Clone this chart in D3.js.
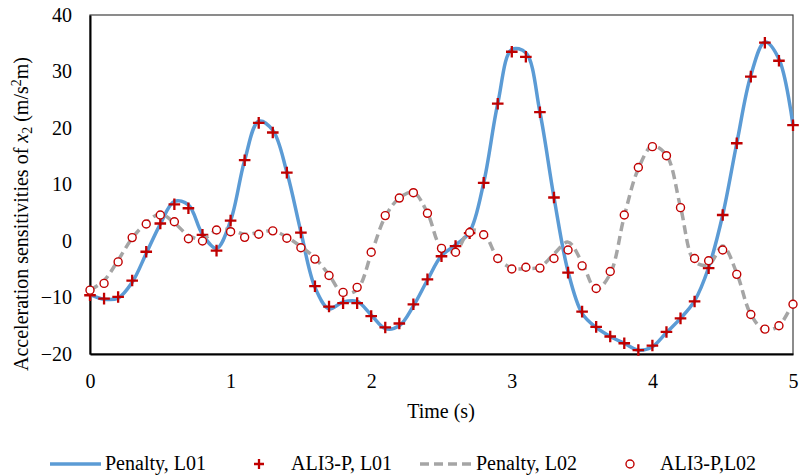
<!DOCTYPE html>
<html><head><meta charset="utf-8">
<script src="https://cdn.jsdelivr.net/npm/d3@7"></script>
<style>body{margin:0;background:#fff}</style>
</head><body><svg id="c" width="800" height="476"></svg>
<script>
const time = [0,0.1,0.2,0.3,0.4,0.5,0.6,0.7,0.8,0.9,1,1.1,1.2,1.3,1.4,1.5,1.6,1.7,1.8,1.9,2,2.1,2.2,2.3,2.4,2.5,2.6,2.7,2.8,2.9,3,3.1,3.2,3.3,3.4,3.5,3.6,3.7,3.8,3.9,4,4.1,4.2,4.3,4.4,4.5,4.6,4.7,4.8,4.9,5];
const penaltyL01 = [-9.5,-10.3,-10.1,-7.3,-2.2,3.0,7.0,6.4,1.2,-1.3,3.6,14.3,21.2,19.6,12.2,1.6,-8.2,-12.0,-10.8,-10.7,-13.1,-15.5,-15.0,-11.5,-6.9,-2.6,-0.7,1.6,10.3,24.3,33.9,33.3,22.8,7.7,-5.4,-12.8,-15.3,-16.9,-18.1,-19.3,-18.7,-16.2,-13.7,-10.6,-4.7,4.6,17.3,29.3,35.2,32.2,20.5];
const ali3pL01 = [-9.6,-10.2,-9.9,-7.0,-1.9,3.1,6.5,5.8,1.1,-1.7,3.6,14.3,20.9,19.2,12.1,1.5,-8.0,-11.6,-11.0,-11.0,-13.3,-15.3,-14.6,-11.2,-6.8,-2.7,-0.9,1.4,10.3,24.3,33.5,32.6,22.8,7.7,-5.6,-12.5,-15.2,-16.9,-18.1,-19.3,-18.5,-16.1,-13.7,-10.7,-4.8,4.6,17.3,29.1,35.1,31.9,20.5];
const penaltyL02 = [-8.7,-7.0,-3.4,0.5,3.2,4.8,3.2,1.0,0.3,1.9,2.0,1.2,1.5,1.8,0.7,-1.0,-3.0,-6.0,-9.3,-8.6,-2.3,4.3,7.6,8.6,5.0,-1.2,-1.8,1.8,1.3,-3.0,-4.8,-4.9,-4.6,-2.3,-0.2,-3.8,-8.6,-5.8,4.4,12.8,16.8,15.2,6.0,-3.6,-4.2,-0.9,-5.7,-13.0,-15.8,-15.0,-10.8];
const ali3pL02 = [-8.7,-7.5,-3.7,0.6,3.0,4.6,3.4,0.4,0.0,1.95,1.65,0.65,1.2,1.8,0.5,-1.2,-3.2,-6.1,-9.1,-8.2,-2.0,4.5,7.6,8.55,4.9,-1.3,-2.0,1.5,1.1,-3.1,-4.95,-4.65,-4.8,-3.1,-1.6,-4.4,-8.4,-5.4,4.6,13.0,16.7,15.1,5.9,-3.1,-3.5,-1.6,-5.9,-13.0,-15.6,-15.0,-11.2];
const xTicks = [0,1,2,3,4,5];
const yTicks = [-20,-10,0,10,20,30,40];
const legendLabels = ["Penalty, L01","ALI3-P, L01","Penalty, L02","ALI3-P,L02"];

const SERIF = "Liberation Serif";
const FS = 20;
const svg = d3.select("#c").attr("font-family",SERIF);
const L=90, R=793, T=15, B=354;
const x = d3.scaleLinear().domain([0,5]).range([L,R]);
const y = d3.scaleLinear().domain([-20,40]).range([B,T]);
const BLUE="#5B9BD5", GRAY="#A5A5A5", RED="#C00000";

svg.append("rect").attr("x",L).attr("y",T).attr("width",R-L).attr("height",B-T)
  .attr("fill","none").attr("stroke","#404040").attr("stroke-width",1.2);

const ax = svg.append("g").attr("transform",`translate(0,${B})`)
  .call(d3.axisBottom(x).tickValues(xTicks).tickSize(0).tickPadding(20).tickFormat(d3.format("d")));
const ay = svg.append("g").attr("transform",`translate(${L},0)`)
  .call(d3.axisLeft(y).tickValues(yTicks).tickSize(0).tickPadding(18).tickFormat(d3.format("d")));
[ax,ay].forEach(g=>{
  g.attr("font-family",SERIF).attr("font-size",FS);
  g.select(".domain").attr("stroke","#000").attr("stroke-width",2);
  g.selectAll("text").attr("fill","#000");
});

const pts = (arr)=>time.map((t,i)=>[t,arr[i]]);
const line = d3.line().x(d=>x(d[0])).y(d=>y(d[1])).curve(d3.curveCatmullRom.alpha(0.5));

svg.append("path").attr("d",line(pts(penaltyL01))).attr("fill","none")
  .attr("stroke",BLUE).attr("stroke-width",3.5).attr("stroke-linejoin","round");
const plus = (g,cx,cy,s)=>{
  g.append("path").attr("d",`M${cx-s},${cy}H${cx+s}M${cx},${cy-s}V${cy+s}`)
   .attr("stroke",RED).attr("stroke-width",2.3).attr("fill","none");
};
const gp = svg.append("g");
pts(ali3pL01).forEach(d=>plus(gp,x(d[0]),y(d[1]),5.8));
svg.append("path").attr("d",line(pts(penaltyL02))).attr("fill","none")
  .attr("stroke",GRAY).attr("stroke-width",3.5).attr("stroke-dasharray","9,5");
svg.append("g").selectAll("circle").data(pts(ali3pL02)).join("circle")
  .attr("cx",d=>x(d[0])).attr("cy",d=>y(d[1])).attr("r",4)
  .attr("fill","#fff").attr("stroke",RED).attr("stroke-width",1.4);

svg.append("text").attr("x",441).attr("y",418).attr("text-anchor","middle")
  .attr("font-size",FS).text("Time (s)");
const yt = svg.append("text").attr("font-size",FS);
yt.append("tspan").text("Acceleration sensitivities of ");
yt.append("tspan").attr("font-style","italic").text("x");
yt.append("tspan").attr("font-size",14).attr("dy",4).text("2");
yt.append("tspan").attr("dy",-4).text(" (m/s");
yt.append("tspan").attr("font-size",14).attr("dy",-7).text("2");
yt.append("tspan").attr("dy",7).text("m)");
const tl = yt.node().getBBox().width;
yt.attr("transform",`translate(28,${214 + tl/2}) rotate(-90)`);

const ly = 464;
const lg = svg.append("g").attr("font-size",FS);
lg.append("line").attr("x1",50).attr("x2",101).attr("y1",ly).attr("y2",ly).attr("stroke",BLUE).attr("stroke-width",3.5);
lg.append("text").attr("x",105).attr("y",ly+6).text(legendLabels[0]);
plus(lg,259,ly,5);
lg.append("text").attr("x",291).attr("y",ly+6).text(legendLabels[1]);
lg.append("line").attr("x1",420).attr("x2",471).attr("y1",ly).attr("y2",ly).attr("stroke",GRAY).attr("stroke-width",3.5).attr("stroke-dasharray","9,5");
lg.append("text").attr("x",476).attr("y",ly+6).text(legendLabels[2]);
lg.append("circle").attr("cx",630).attr("cy",ly).attr("r",4).attr("fill","#fff").attr("stroke",RED).attr("stroke-width",1.4);
lg.append("text").attr("x",660).attr("y",ly+6).text(legendLabels[3]);
</script></body></html>
